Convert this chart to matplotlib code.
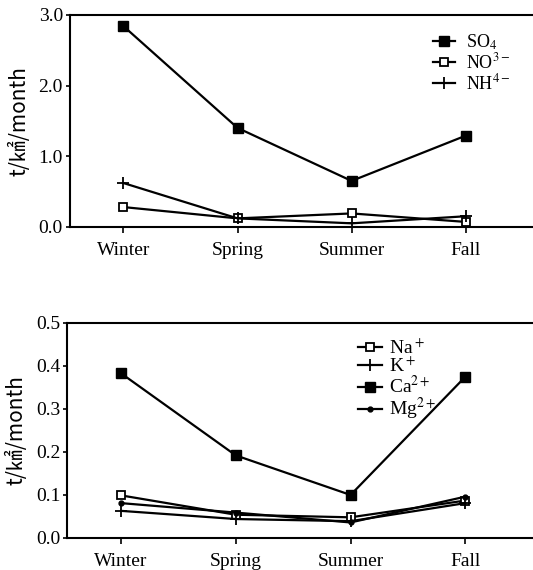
import matplotlib
matplotlib.use("Agg")
import matplotlib.pyplot as plt

seasons = ["Winter", "Spring", "Summer", "Fall"]

# top panel: anions
so4 = [2.84, 1.40, 0.65, 1.29]
no3 = [0.28, 0.12, 0.19, 0.07]
nh4 = [0.62, 0.12, 0.05, 0.15]

# bottom panel: cations
na = [0.098, 0.053, 0.047, 0.086]
k = [0.062, 0.043, 0.038, 0.080]
ca = [0.382, 0.191, 0.099, 0.374]
mg = [0.080, 0.058, 0.035, 0.095]

plt.rcParams["font.family"] = ["Liberation Serif", "DejaVu Serif"]
plt.rcParams["mathtext.fontset"] = "stix"

fig = plt.figure(figsize=(5.33, 5.70), dpi=100)
ax1 = fig.add_axes([0.131, 0.602, 0.869, 0.372])
ax2 = fig.add_axes([0.126, 0.057, 0.874, 0.377])

x = range(len(seasons))
lw = 1.6

ax1.plot(x, so4, color="black", lw=lw, marker="s", ms=6.5, label=r"SO$_4$")
ax1.plot(x, no3, color="black", lw=lw, marker="s", ms=6, mfc="white", mew=1.3, label=r"NO$^{3-}$")
ax1.plot(x, nh4, color="black", lw=lw, marker="+", ms=8, mew=1.3, label=r"NH$^{4-}$")
ax1.set_ylim(0, 3.0)
ax1.set_yticks([0, 1, 2, 3])
ax1.set_yticklabels(["0.0", "1.0", "2.0", "3.0"])

ax2.plot(x, na, color="black", lw=lw, marker="s", ms=6, mfc="white", mew=1.3, label=r"Na$^+$")
ax2.plot(x, k, color="black", lw=lw, marker="+", ms=8, mew=1.3, label=r"K$^+$")
ax2.plot(x, ca, color="black", lw=lw, marker="s", ms=6.5, label=r"Ca$^{2+}$")
ax2.plot(x, mg, color="black", lw=lw, marker="o", ms=3.5, label=r"Mg$^{2+}$")
ax2.set_ylim(0, 0.5)
ax2.set_yticks([0, 0.1, 0.2, 0.3, 0.4, 0.5])
ax2.set_yticklabels(["0.0", "0.1", "0.2", "0.3", "0.4", "0.5"])

for ax in (ax1, ax2):
    ax.set_xlim(-0.47, 3.59)
    ax.set_xticks(list(x))
    ax.set_xticklabels(seasons, fontsize=14)
    ax.tick_params(axis="y", labelsize=14, direction="out", length=3, width=1.2, pad=2)
    ax.tick_params(axis="x", direction="out", length=4, width=1.2, pad=7)
    ax.spines["right"].set_visible(False)
    for s in ("left", "top", "bottom"):
        ax.spines[s].set_linewidth(1.5)
    ax.set_ylabel("t/㎢/month", fontsize=15, labelpad=6,
                  family=["Noto Sans CJK SC", "DejaVu Sans"])

ax1.legend(loc="upper right", bbox_to_anchor=(0.985, 0.995), frameon=False, fontsize=13,
           handlelength=1.2, handletextpad=0.6, labelspacing=0.05)
ax2.legend(loc="upper right", bbox_to_anchor=(0.83, 1.01), frameon=False, fontsize=14,
           handlelength=1.2, handletextpad=0.4, labelspacing=-0.05)

fig.savefig("out.png", dpi=100)
